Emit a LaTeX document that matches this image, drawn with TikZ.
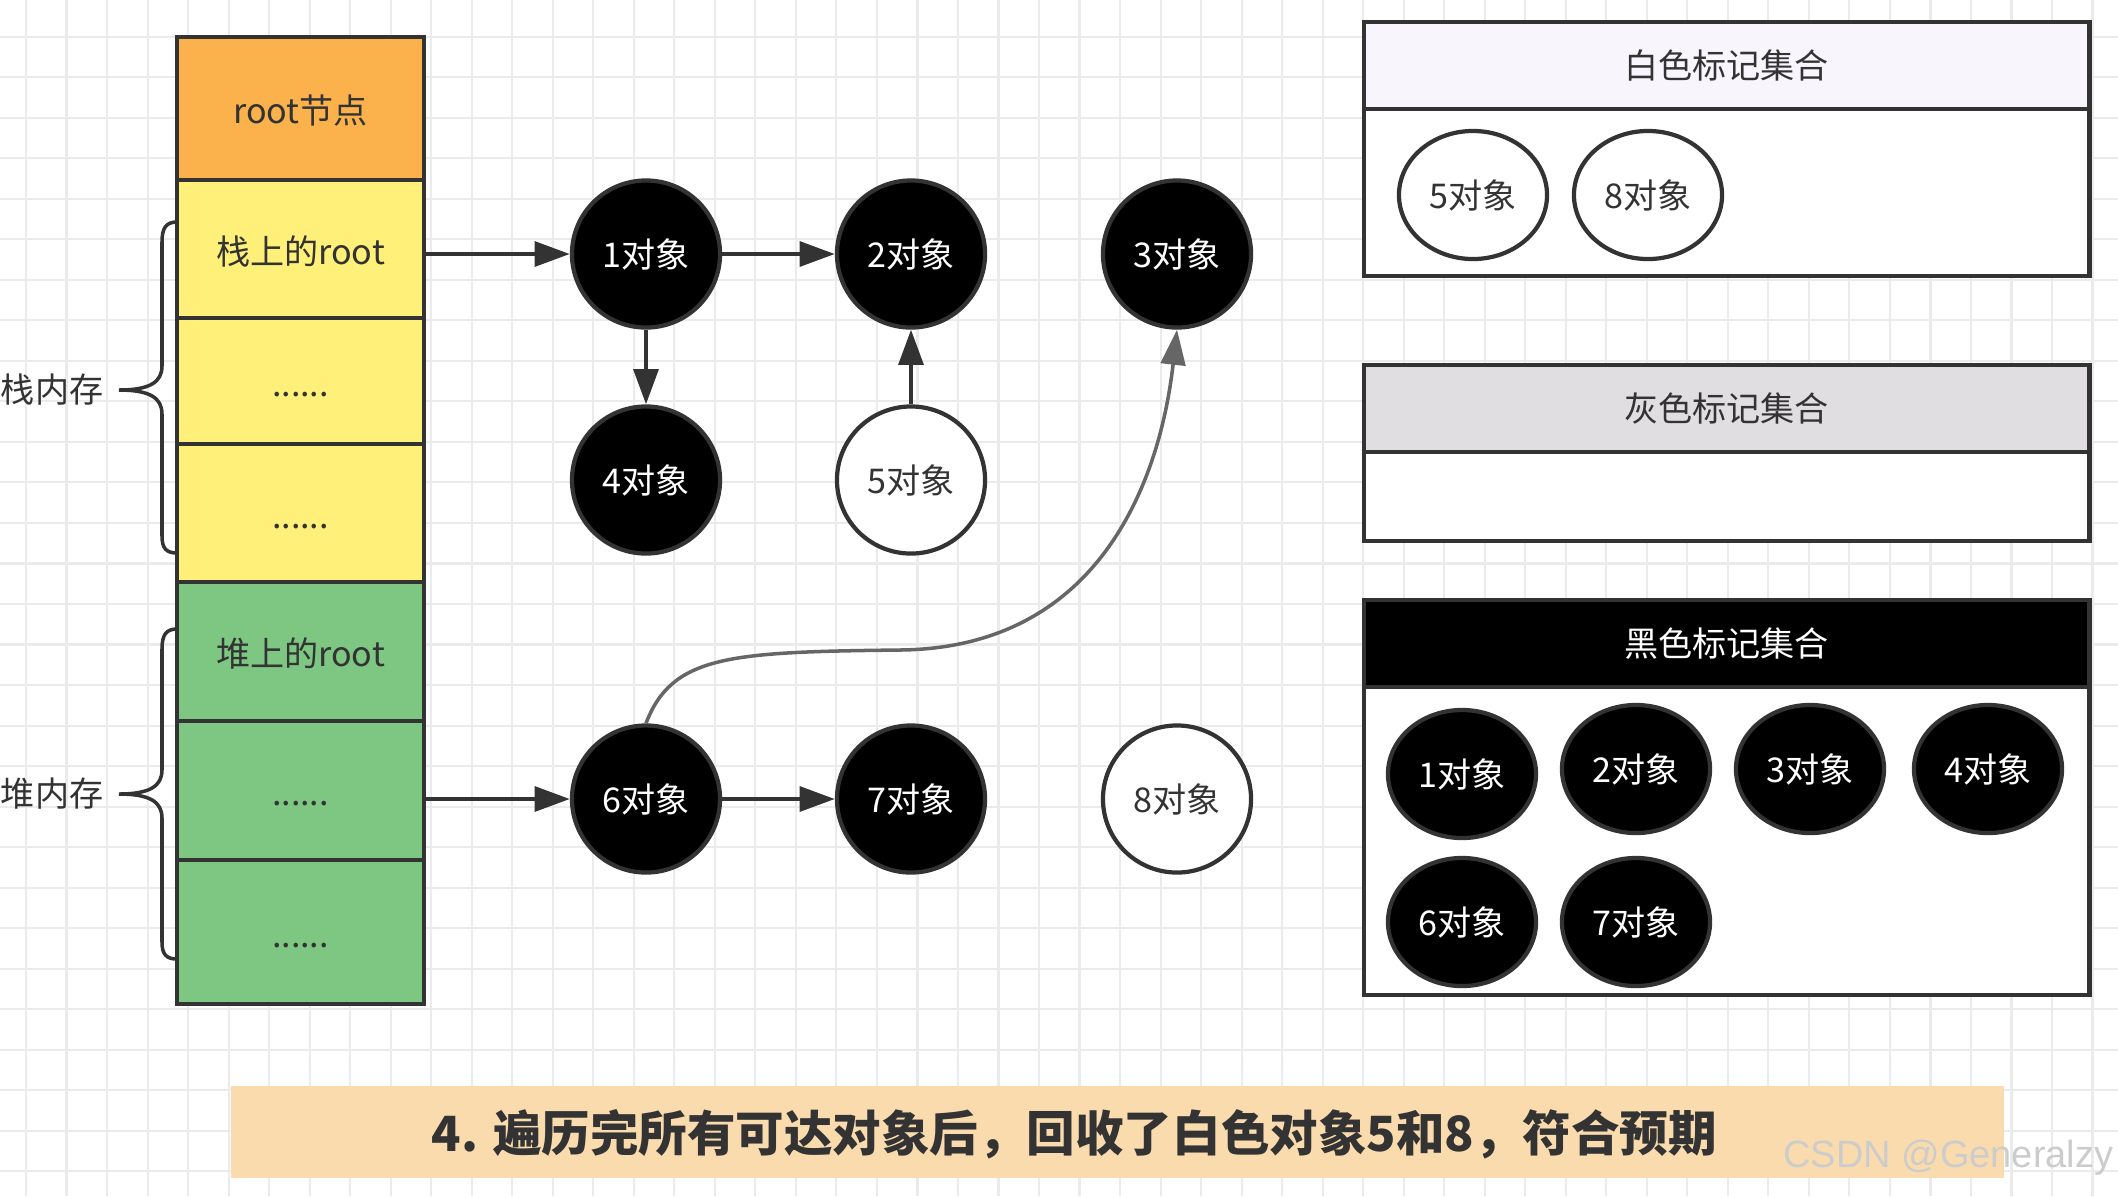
\documentclass[tikz,border=0pt]{standalone}
\usepackage{fontspec}
\setmainfont{Noto Sans CJK SC}
\newfontfamily\wmfont{Liberation Sans}
\usetikzlibrary{arrows.meta,shapes.geometric}
\definecolor{lineC}{HTML}{333333}
\definecolor{txtC}{HTML}{333333}
\definecolor{gridC}{HTML}{EBEBEB}
\definecolor{orangeC}{HTML}{FBB24C}
\definecolor{yellowC}{HTML}{FFF07A}
\definecolor{greenC}{HTML}{7EC783}
\definecolor{whiteHd}{HTML}{F9F5FC}
\definecolor{grayHd}{HTML}{E1DEE1}
\definecolor{bannerC}{HTML}{FADBAD}
\definecolor{curveC}{HTML}{666666}
\definecolor{wmC}{HTML}{CCCCCC}
\newcommand\lblfont{\fontsize{9.7pt}{11.5pt}\selectfont}
\newcommand\bannerfont{\fontsize{13.8pt}{16pt}\selectfont\bfseries}
\begin{document}
\begin{tikzpicture}[x=0.01cm,y=-0.01cm,
  cell/.style={draw=lineC, line width=1.3pt, minimum width=2.47cm, inner sep=0pt, font=\lblfont, text=txtC, text height=0.92em, text depth=0.04em},
  obj/.style={ellipse, draw=lineC, line width=1.2pt, minimum width=1.48cm, minimum height=1.47cm, inner sep=0pt, font=\lblfont},
  blk/.style={obj, fill=black, text=white},
  wht/.style={obj, fill=white, text=txtC},
  setobj/.style={minimum height=1.28cm},
  setbox/.style={draw=lineC, line width=1.3pt, minimum width=7.25cm, inner sep=0pt, font=\lblfont, text=txtC},
  arr/.style={draw=lineC, line width=1.2pt, -{Triangle[length=10pt,width=7pt]}},
  carr/.style={draw=curveC, line width=1pt, -{Triangle[length=10pt,width=7pt]}},
  bracestyle/.style={draw=lineC, line width=1pt},
  sidelbl/.style={anchor=east, font=\lblfont, text=txtC, inner sep=0pt}
]
\useasboundingbox (0,0) rectangle (2118,1196);
\fill[white] (0,0) rectangle (2118,1196);
% grid
\foreach \i in {0,...,51} \draw[gridC, line width=0.6pt] ({26+40.52*\i},0) -- ({26+40.52*\i},1196);
\foreach \j in {0,...,28} \draw[gridC, line width=0.6pt] (0,{36.7+40.52*\j}) -- (2118,{36.7+40.52*\j});

% stack column
\node[cell, fill=orangeC, minimum height=1.43cm] (root) at (300.5,108.5) {root节点};
\node[cell, fill=yellowC, minimum height=1.38cm] (s1) at (300.5,249) {栈上的root};
\node[cell, fill=yellowC, minimum height=1.26cm] (s2) at (300.5,381) {......};
\node[cell, fill=yellowC, minimum height=1.38cm] (s3) at (300.5,513) {......};
\node[cell, fill=greenC, minimum height=1.39cm] (h1) at (300.5,651.5) {堆上的root};
\node[cell, fill=greenC, minimum height=1.39cm] (h2) at (300.5,790.5) {......};
\node[cell, fill=greenC, minimum height=1.44cm] (h3) at (300.5,932) {......};

% braces and labels
\draw[bracestyle] (177,222) .. controls (166,222) and (162,228) .. (162,242) -- (162,366)
  .. controls (162,382) and (150,390) .. (119,390)
  .. controls (150,390) and (162,398) .. (162,414) -- (162,536)
  .. controls (162,548) and (166,553) .. (177,553);
\node[sidelbl] (lstack) at (104,390) {栈内存};
\draw[bracestyle] (177,629) .. controls (166,629) and (162,635) .. (162,649) -- (162,770)
  .. controls (162,786) and (150,794) .. (119,794)
  .. controls (150,794) and (162,802) .. (162,818) -- (162,942)
  .. controls (162,954) and (166,959) .. (177,959);
\node[sidelbl] (lheap) at (104,794) {堆内存};

% object graph
\node[blk] (c1) at (646,254) {1对象};
\node[blk] (c2) at (911,254) {2对象};
\node[blk] (c3) at (1177,254) {3对象};
\node[blk] (c4) at (646,480) {4对象};
\node[wht] (c5) at (911,480) {5对象};
\node[blk] (c6) at (646,799) {6对象};
\node[blk] (c7) at (911,799) {7对象};
\node[wht] (c8) at (1177,799) {8对象};

\draw[arr] (s1.east |- c1.west) -- (c1.west);
\draw[arr] (c1) -- (c2);
\draw[arr] (c1) -- (c4);
\draw[arr] (c5) -- (c2);
\draw[arr] (h2.east |- c6.west) -- (c6.west);
\draw[arr] (c6) -- (c7);
\coordinate (cm) at (900,650);
\draw[carr] (c6.north) .. controls (672,655) and (730,652) .. (cm)
  .. controls (1100,648) and (1160,480) .. (c3.south);

% white set
\node[setbox, fill=whiteHd, minimum height=0.87cm] (wh) at (1726.5,65.5) {白色标记集合};
\node[setbox, fill=white, minimum height=1.67cm] (wb) at (1726.5,192.5) {};
\node[wht, setobj] (w5) at (1473,195) {5对象};
\node[wht, setobj] (w8) at (1648,195) {8对象};

% gray set
\node[setbox, fill=grayHd, minimum height=0.87cm] (gh) at (1726.5,408.5) {灰色标记集合};
\node[setbox, fill=white, minimum height=0.89cm] (gb) at (1726.5,496.5) {};

% black set
\node[setbox, fill=black, text=white, minimum height=0.87cm] (bh) at (1726.5,643.5) {黑色标记集合};
\node[setbox, fill=white, minimum height=3.08cm] (bb) at (1726.5,841) {};
\node[blk, setobj] (b1) at (1462,774) {1对象};
\node[blk, setobj] (b2) at (1636,769) {2对象};
\node[blk, setobj] (b3) at (1810,769) {3对象};
\node[blk, setobj] (b4) at (1988,769) {4对象};
\node[blk, setobj] (b6) at (1462,922) {6对象};
\node[blk, setobj] (b7) at (1636,922) {7对象};

% banner
\node[fill=bannerC, minimum width=17.71cm, minimum height=0.92cm, inner sep=0pt] (banner) at (1117.5,1132) {};
\node[anchor=west, inner sep=0pt, font=\bannerfont, text=txtC] (btext) at (431,1134) {4. 遍历完所有可达对象后，回收了白色对象5和8，符合预期};

% watermark
\node[anchor=east, inner sep=0pt, font=\wmfont\fontsize{10.8pt}{12pt}\selectfont, text=wmC] (wm) at (2114,1158) {CSDN @Generalzy};
\end{tikzpicture}
\end{document}
